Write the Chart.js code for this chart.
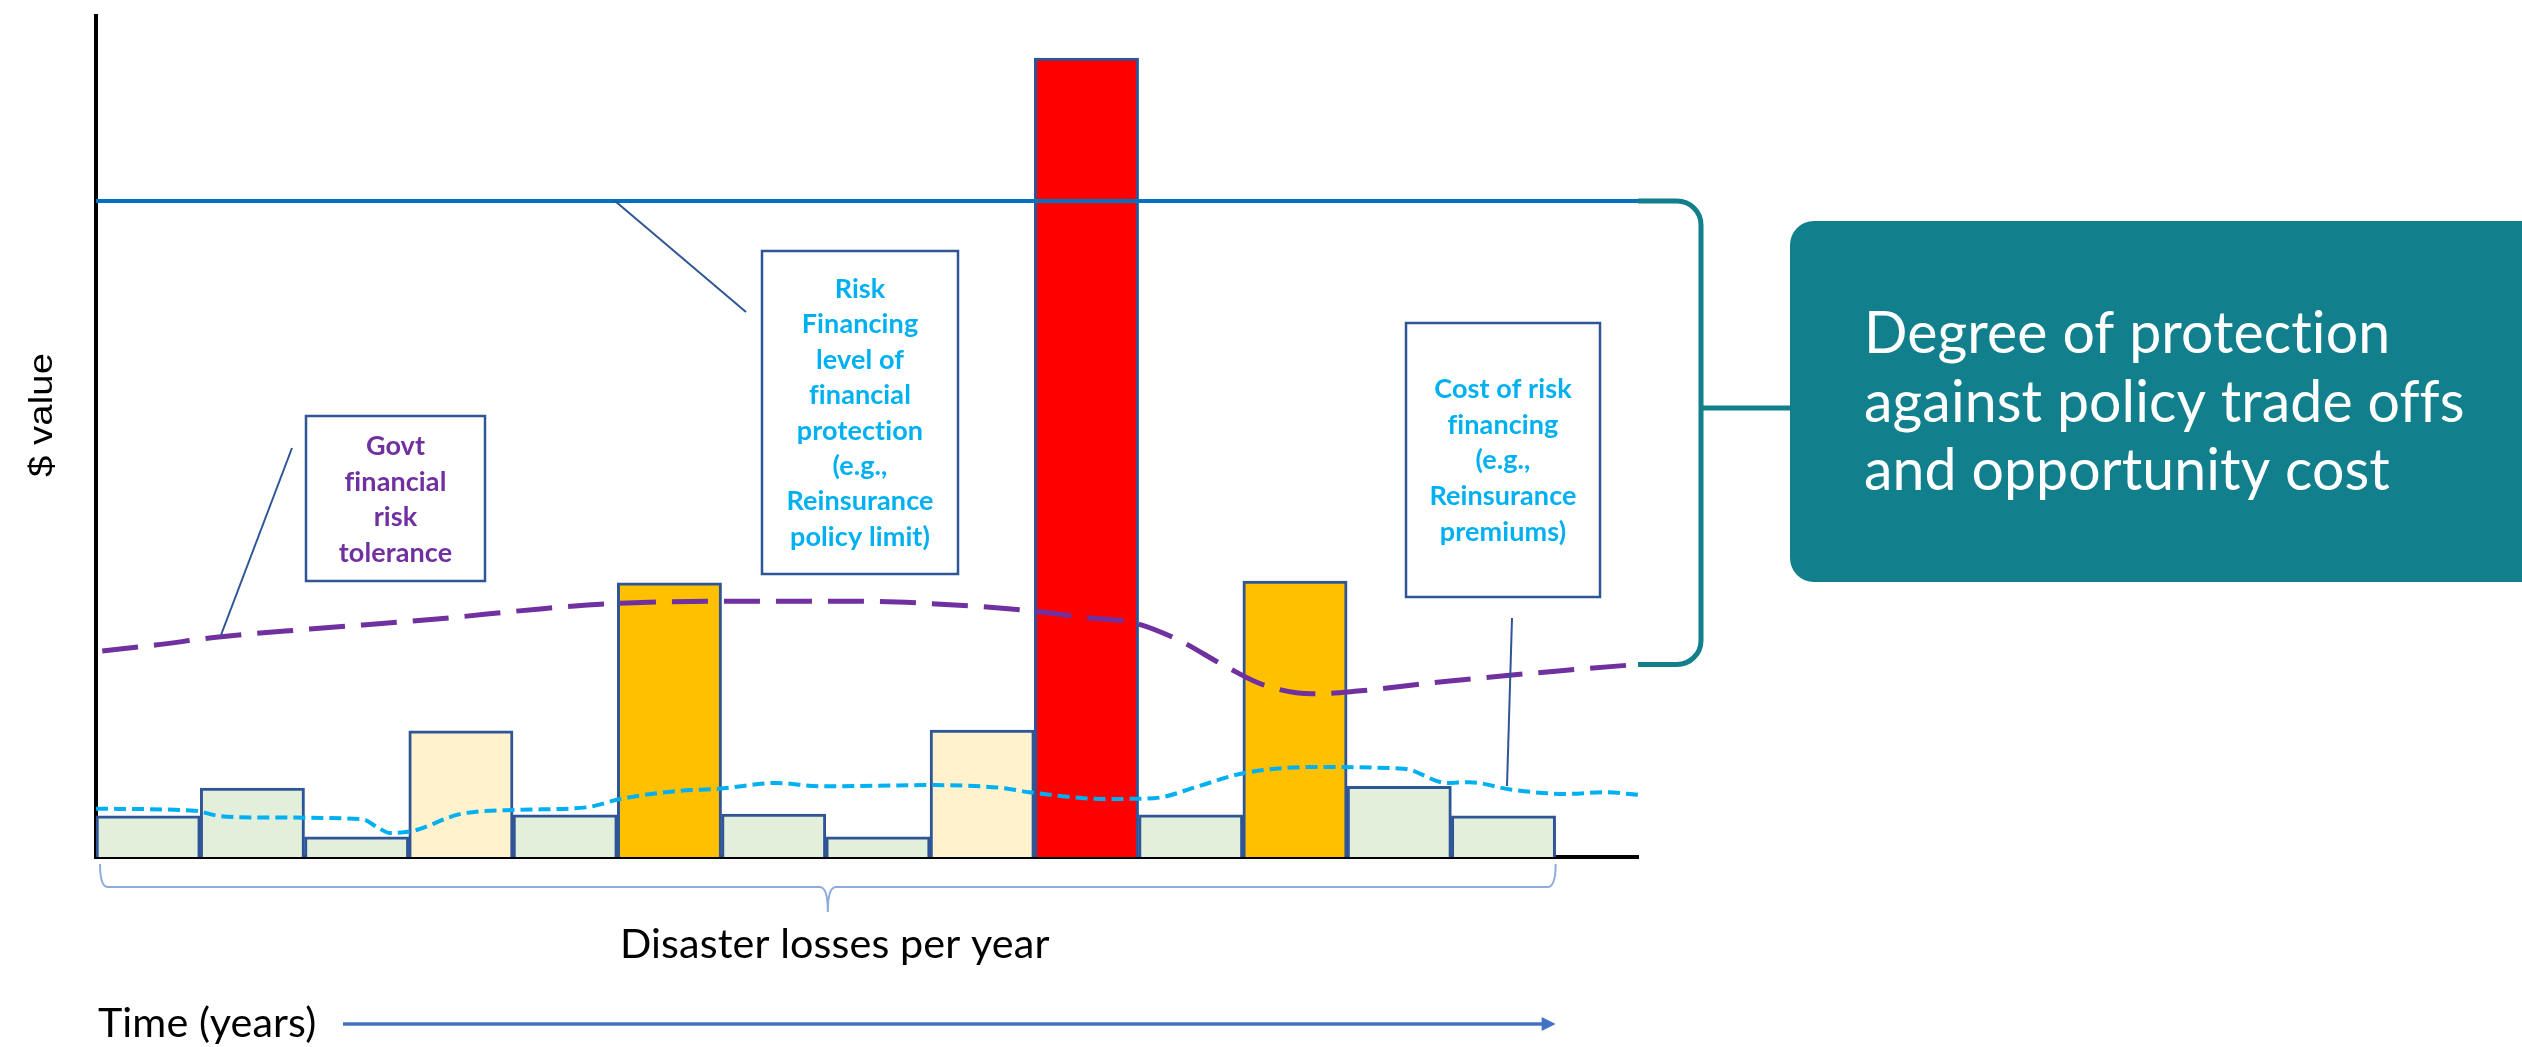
<!DOCTYPE html>
<html><head><meta charset="utf-8">
<script src="https://cdn.jsdelivr.net/npm/chart.js@4.4.0/dist/chart.umd.min.js"></script>
<style>html,body{margin:0;padding:0;background:#fff;overflow:hidden}canvas{display:block;font-variant-ligatures:none}</style>
</head><body>
<canvas id="c" width="2522" height="1047"></canvas>
<script>
// ---- data ----
const years = [1,2,3,4,5,6,7,8,9,10,11,12,13,14];
const losses = [4.9,8.2,2.4,15.0,5.0,32.6,5.1,2.4,15.1,95.0,5.0,32.8,8.4,4.9];
const severity = ['low','low','low','moderate','low','high','low','low','moderate','extreme','low','high','low','low'];
const timeStart = 0.5, timeEnd = 15.29;
const protectionLevel = 78;
const toleranceX = [0.56,1.07,1.7,2.55,3.77,4.76,5.4,6.4,7.84,8.4,9.45,9.97,10.44,10.85,11.33,11.69,12.16,12.57,13.46,14.5,15.29];
const toleranceY = [24.5,25.2,26.2,27.1,28.3,29.5,30.1,30.4,30.4,30.2,29.3,28.5,27.9,26.0,22.7,20.5,19.4,19.7,20.9,22.1,22.9];
const costX = [0.5,1.45,1.67,2.06,3.05,3.21,3.32,3.54,3.99,4.54,5.2,5.53,6.08,6.47,7.02,7.46,8.51,9.2,9.45,10.18,10.65,11.07,11.48,12.16,13.04,13.46,13.67,14.08,14.6,14.96,15.29];
const costY = [5.74,5.5,4.9,4.7,4.5,3.45,2.85,3.1,5.1,5.6,5.9,6.9,7.85,8.1,8.8,8.4,8.55,8.2,7.7,6.9,7.0,8.4,9.9,10.7,10.5,8.8,8.9,8.0,7.5,7.7,7.4];

// ---- styles ----
const severityColor = {low:'#E2EFDA', moderate:'#FFF2CC', high:'#FFC000', extreme:'#FF0000'};
const outline = '#2F5597';
const teal = '#117F8C';

function noLig(ctx) {
  try { ctx.letterSpacing = '0.1px'; } catch (e) {}
  try { ctx.textRendering = 'optimizeSpeed'; } catch (e) {}
}
function fitSize(ctx, text, tmpl, target) {
  ctx.font = tmpl.replace('$', '100');
  return 100 * target / ctx.measureText(text).width;
}

const decor = {
  id: 'decor',
  afterDraw(chart) {
    const ctx = chart.ctx;
    const xs = chart.scales.x, ys = chart.scales.y;
    const ca = chart.chartArea;
    ctx.save();
    noLig(ctx);

    // y axis title (slightly stretched like the reference)
    ctx.save();
    ctx.translate(43, 415);
    ctx.rotate(-Math.PI/2);
    ctx.fillStyle = '#000';
    ctx.font = '33px "Liberation Sans", Arial, sans-serif';
    const yw = ctx.measureText('$ value').width;
    ctx.scale(124 / yw, 1);
    ctx.textAlign = 'center'; ctx.textBaseline = 'middle';
    ctx.fillText('$ value', 0, 0);
    ctx.restore();

    // brace under bars
    const bx1 = xs.getPixelForValue(timeStart) + 4;
    const bx2 = xs.getPixelForValue(years[years.length-1] + 0.5);
    const bmid = (bx1 + bx2) / 2;
    const by0 = ca.bottom + 7, by1 = ca.bottom + 30, by2 = ca.bottom + 55;
    ctx.strokeStyle = '#8FAADC'; ctx.lineWidth = 2;
    ctx.beginPath();
    ctx.moveTo(bx1, by0);
    ctx.quadraticCurveTo(bx1, by1, bx1 + 8, by1);
    ctx.lineTo(bmid - 8, by1);
    ctx.quadraticCurveTo(bmid, by1, bmid, by2);
    ctx.quadraticCurveTo(bmid, by1, bmid + 8, by1);
    ctx.lineTo(bx2 - 8, by1);
    ctx.quadraticCurveTo(bx2, by1, bx2, by0);
    ctx.stroke();

    // x labels
    const lblTmpl = '$px Lato, sans-serif';
    const s1 = (fitSize(ctx, 'Disaster losses per year', lblTmpl, 422) + fitSize(ctx, 'Time (years)', lblTmpl, 221)) / 2;
    ctx.fillStyle = '#000';
    ctx.font = lblTmpl.replace('$', s1.toFixed(1));
    ctx.textAlign = 'left'; ctx.textBaseline = 'alphabetic';
    ctx.fillText('Disaster losses per year', 620, 958);
    ctx.fillText('Time (years)', 98, 1037);

    // time arrow
    ctx.strokeStyle = '#4472C4'; ctx.fillStyle = '#4472C4'; ctx.lineWidth = 3.5;
    ctx.beginPath(); ctx.moveTo(343, 1024); ctx.lineTo(bx2 - 12, 1024); ctx.stroke();
    ctx.beginPath(); ctx.moveTo(bx2, 1024); ctx.lineTo(bx2 - 14, 1017); ctx.lineTo(bx2 - 14, 1031); ctx.closePath(); ctx.fill();

    // leader lines
    ctx.strokeStyle = outline; ctx.lineWidth = 2;
    const lines = [[292,448,221,635],[615,201,746,312],[1512,618,1507,786]];
    lines.forEach(l => { ctx.beginPath(); ctx.moveTo(l[0],l[1]); ctx.lineTo(l[2],l[3]); ctx.stroke(); });

    // annotation boxes
    const boxTmpl = 'bold $px Lato, sans-serif';
    const sb = (fitSize(ctx, 'Reinsurance', boxTmpl, 146) + fitSize(ctx, 'tolerance', boxTmpl, 113)) / 2;
    const boxes = [
      {x:306,y:416,w:179,h:165,color:'#7030A0',base:455,step:35.7,text:['Govt','financial','risk','tolerance']},
      {x:762,y:251,w:196,h:323,color:'#00B0F0',base:298,step:35.4,text:['Risk','Financing','level of','financial','protection','(e.g.,','Reinsurance','policy limit)']},
      {x:1406,y:323,w:194,h:274,color:'#00B0F0',base:398,step:35.7,text:['Cost of risk','financing','(e.g.,','Reinsurance','premiums)']}
    ];
    boxes.forEach(b => {
      ctx.fillStyle = '#fff'; ctx.fillRect(b.x, b.y, b.w, b.h);
      ctx.strokeStyle = outline; ctx.lineWidth = 2.5; ctx.strokeRect(b.x, b.y, b.w, b.h);
      ctx.fillStyle = b.color; ctx.font = boxTmpl.replace('$', sb.toFixed(1));
      ctx.textAlign = 'center'; ctx.textBaseline = 'alphabetic';
      b.text.forEach((t, i) => ctx.fillText(t, b.x + b.w/2, b.base + i*b.step));
    });

    // teal bracket
    const topY = ys.getPixelForValue(protectionLevel);
    const botY = ys.getPixelForValue(toleranceY[toleranceY.length-1]);
    const vx = 1701, r = 24;
    ctx.strokeStyle = teal; ctx.lineWidth = 5;
    ctx.beginPath();
    ctx.moveTo(ca.right, topY);
    ctx.lineTo(vx - r, topY);
    ctx.arcTo(vx, topY, vx, topY + r, r);
    ctx.lineTo(vx, botY - r);
    ctx.arcTo(vx, botY, vx - r, botY, r);
    ctx.lineTo(ca.right, botY);
    ctx.stroke();
    ctx.beginPath(); ctx.moveTo(vx, 408); ctx.lineTo(1792, 408); ctx.stroke();

    // teal box
    const tx = 1790, ty = 221, tw = 2522 - 1790 + 30, th = 361, tr = 24;
    ctx.fillStyle = teal;
    ctx.beginPath();
    ctx.moveTo(tx + tr, ty);
    ctx.lineTo(tx + tw, ty); ctx.lineTo(tx + tw, ty + th);
    ctx.lineTo(tx + tr, ty + th);
    ctx.arcTo(tx, ty + th, tx, ty + th - tr, tr);
    ctx.lineTo(tx, ty + tr);
    ctx.arcTo(tx, ty, tx + tr, ty, tr);
    ctx.closePath(); ctx.fill();
    const tTmpl = '$px Lato, sans-serif';
    const st = (fitSize(ctx, 'Degree of protection', tTmpl, 524) + fitSize(ctx, 'against policy trade offs', tTmpl, 601)) / 2;
    ctx.fillStyle = '#fff'; ctx.font = tTmpl.replace('$', st.toFixed(1));
    ctx.textAlign = 'left'; ctx.textBaseline = 'alphabetic';
    ['Degree of protection','against policy trade offs','and opportunity cost'].forEach((t,i) => ctx.fillText(t, 1864, 353 + i*68.5));

    ctx.restore();
  }
};

new Chart(document.getElementById('c'), {
  type: 'bar',
  data: {
    datasets: [
      {type:'line', label:'Risk financing level of financial protection',
       data:[{x:timeStart,y:protectionLevel},{x:timeEnd,y:protectionLevel}],
       borderColor:'#0070C0', borderWidth:4, pointRadius:0, order:2},
      {type:'line', label:'Govt financial risk tolerance',
       data: toleranceX.map((x,i)=>({x, y:toleranceY[i]})),
       borderColor:'#7030A0', borderWidth:5, borderDash:[36,16], pointRadius:0,
       cubicInterpolationMode:'monotone', order:1},
      {type:'line', label:'Cost of risk financing',
       data: costX.map((x,i)=>({x, y:costY[i]})),
       borderColor:'#00B0F0', borderWidth:4, borderDash:[12,6], pointRadius:0,
       cubicInterpolationMode:'monotone', order:0},
      {type:'bar', label:'Disaster losses per year',
       data: years.map((x,i)=>({x, y:losses[i]})),
       backgroundColor: severity.map(s => severityColor[s]),
       borderColor: outline, borderWidth:3, barPercentage:1, categoryPercentage:1, order:5}
    ]
  },
  options: {
    responsive:false, animation:false, devicePixelRatio:1,
    layout:{padding:{left:96, top:16, right:884, bottom:190}},
    plugins:{legend:{display:false}, tooltip:{enabled:false}, title:{display:false}},
    scales:{
      x:{type:'linear', min:timeStart, max:timeEnd, offset:false,
         grid:{display:false, drawTicks:false}, ticks:{display:false},
         border:{display:true, color:'#000', width:4}},
      y:{type:'linear', min:0, max:100,
         grid:{display:false, drawTicks:false}, ticks:{display:false},
         border:{display:true, color:'#000', width:4}}
    }
  },
  plugins:[decor]
});
</script>
</body></html>
